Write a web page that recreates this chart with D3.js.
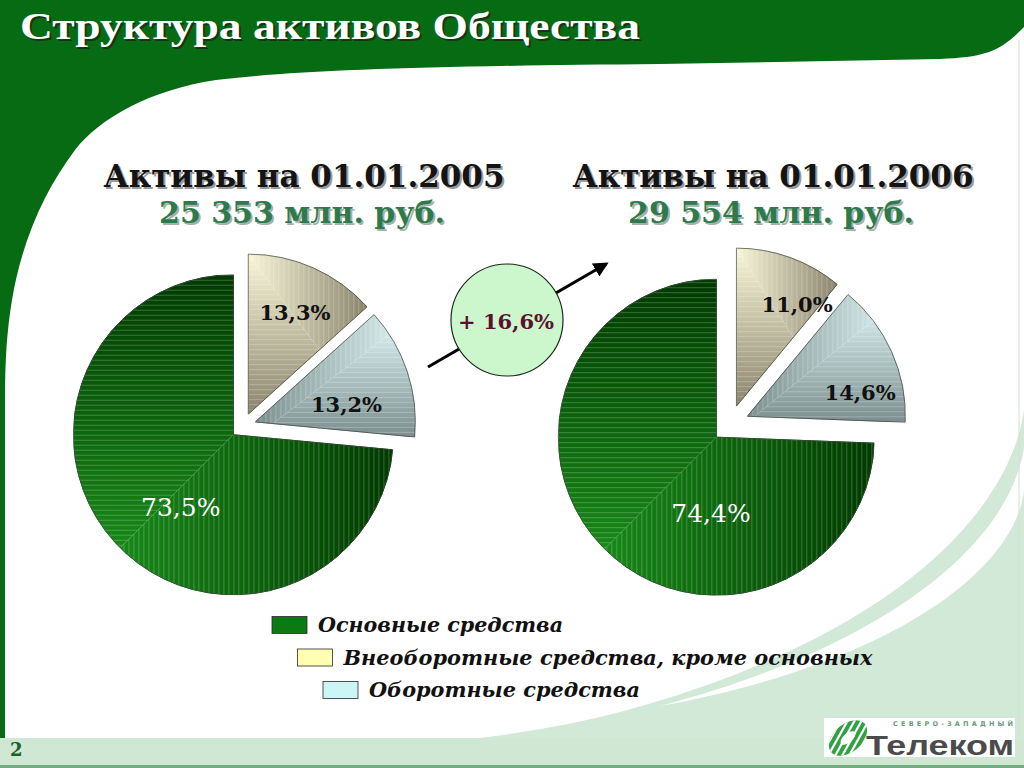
<!DOCTYPE html>
<html>
<head>
<meta charset="utf-8">
<script src="https://cdn.jsdelivr.net/npm/d3@7"></script>
<style>
  body { margin: 0; background: #fff; }
  svg { display: block; }
</style>
</head>
<body>
<svg id="chart" width="1024" height="768"></svg>
<script>
// ---- data ----
const categories = ["Основные средства", "Внеоборотные средства, кроме основных", "Оборотные средства"];
const years = ["01.01.2005", "01.01.2006"];
const totals = ["25 353", "29 554"];
const shares2005 = [73.5, 13.3, 13.2];
const shares2006 = [74.4, 11.0, 14.6];
const growthLabel = "+ 16,6%";
const sliceOrder = [1, 2, 0]; // clockwise from 12 o'clock

const legendColors = ["#0b7a12", "#ffffb4", "#ccf5f5"];
const legendWidths = [245, 529, 271];
// rectangular gradient per category: light corner (0 = left/top, 1 = right/bottom)
const sliceStyles = [
  { light: "#1c961c", dark: "#003a00", corner: [0, 1], label: "#fff", weight: "normal", size: 25 },
  { light: "#f8f6d8", dark: "#8a846c", corner: [0, 0], label: "#111", weight: "bold", size: 21 },
  { light: "#e2f9f9", dark: "#7c8e8e", corner: [1, 0], label: "#111", weight: "bold", size: 21 }
];

const ru = d3.formatLocale({ decimal: ",", thousands: " ", grouping: [3], currency: ["", ""] });
const fmt = ru.format(".1f");

const svg = d3.select("#chart");
const defs = svg.append("defs");

// ---- background ----
svg.append("rect").attr("width", 1024).attr("height", 768).attr("fill", "#fff");

svg.append("path")
  .attr("d", "M1024,410 C1008,520 880,642 620,712 Q560,728 480,738 H1024 Z")
  .attr("fill", "#d2e9d8");
svg.append("path")
  .attr("d", "M1024,448 C1008,548 880,648 660,706 C900,662 1016,566 1024,490 Z")
  .attr("fill", "#fff");
svg.append("rect").attr("x", 0).attr("y", 738).attr("width", 1024).attr("height", 28).attr("fill", "#cfe7d3");
svg.append("rect").attr("x", 0).attr("y", 765).attr("width", 1024).attr("height", 3).attr("fill", "#74ad80");
svg.append("line").attr("x1", 1019).attr("x2", 1019).attr("y1", 40).attr("y2", 738)
  .attr("stroke", "#d4ded4").attr("stroke-width", 1);

svg.append("path")
  .attr("d", "M0,0 H1024 V27 C1000,52 985,57 940,59 L660,64 C430,66 300,70 216,80 C150,90 100,118 75,150 C45,190 22,240 12,300 C7,330 5,360 5,400 L5,738 H0 Z")
  .attr("fill", "#066b12");

// title
svg.append("text")
  .attr("x", 22).attr("y", 41)
  .attr("font-family", "Liberation Serif, serif").attr("font-weight", "bold").attr("font-size", 38)
  .attr("fill", "#1a2a1a").attr("opacity", 0.8)
  .attr("textLength", 620).attr("lengthAdjust", "spacingAndGlyphs")
  .text("Структура активов Общества");
svg.append("text")
  .attr("x", 20).attr("y", 39)
  .attr("font-family", "Liberation Serif, serif").attr("font-weight", "bold").attr("font-size", 38)
  .attr("fill", "#fff")
  .attr("textLength", 620).attr("lengthAdjust", "spacingAndGlyphs")
  .text("Структура активов Общества");

function shadowText(parent, x, y, str, o) {
  const g = parent.append("g")
    .attr("font-family", o.font || "DejaVu Serif, serif")
    .attr("font-size", o.size)
    .attr("font-weight", o.weight || "bold")
    .attr("text-anchor", "middle");
  g.append("text").attr("x", x + 2).attr("y", y + 2).attr("fill", o.shadow).text(str);
  g.append("text").attr("x", x).attr("y", y).attr("fill", o.fill).text(str);
}

// ---- stripe patterns ----
defs.append("pattern").attr("id", "stripeH").attr("patternUnits", "userSpaceOnUse")
  .attr("width", 8).attr("height", 5)
  .append("rect").attr("width", 8).attr("height", 1).attr("fill", "#fff").attr("opacity", 0.22);
defs.append("pattern").attr("id", "stripeV").attr("patternUnits", "userSpaceOnUse")
  .attr("width", 5).attr("height", 8)
  .append("rect").attr("width", 1).attr("height", 8).attr("fill", "#fff").attr("opacity", 0.22);

// ---- pies ----
const pie = d3.pie().sort(null).value(d => d.value);
let uid = 0;

function drawPie(shares, o) {
  const g = svg.append("g").attr("transform", `translate(${o.cx},${o.cy})`);
  const arc = d3.arc().innerRadius(0).outerRadius(o.r);
  const arcs = pie(sliceOrder.map(i => ({ cat: i, value: shares[i] })));

  arcs.forEach(a => {
    const st = sliceStyles[a.data.cat];
    const mid = (a.startAngle + a.endAngle) / 2;
    const sg = g.append("g")
      .attr("transform", `translate(${Math.sin(mid) * o.explode},${-Math.cos(mid) * o.explode})`);
    const d = arc(a);

    const tmp = sg.append("path").attr("d", d).attr("fill", "none");
    const bb = tmp.node().getBBox();
    tmp.remove();

    const [cx, cy] = st.corner;
    const x0 = bb.x + cx * bb.width, x1 = bb.x + (1 - cx) * bb.width;
    const y0 = bb.y + cy * bb.height, y1 = bb.y + (1 - cy) * bb.height;
    const id = "s" + (uid++);

    const gradV = defs.append("linearGradient").attr("id", id + "gv").attr("gradientUnits", "userSpaceOnUse")
      .attr("x1", 0).attr("y1", y0).attr("x2", 0).attr("y2", y1);
    const gradH = defs.append("linearGradient").attr("id", id + "gh").attr("gradientUnits", "userSpaceOnUse")
      .attr("x1", x0).attr("y1", 0).attr("x2", x1).attr("y2", 0);
    [gradV, gradH].forEach(gr => {
      gr.append("stop").attr("offset", "0%").attr("stop-color", st.light);
      gr.append("stop").attr("offset", "100%").attr("stop-color", st.dark);
    });

    defs.append("clipPath").attr("id", id + "ca")
      .append("polygon").attr("points", [[x0, y0], [x1, y1], [x0, y1]].join(" "));
    defs.append("clipPath").attr("id", id + "cb")
      .append("polygon").attr("points", [[x0, y0], [x1, y1], [x1, y0]].join(" "));

    const ga = sg.append("g").attr("clip-path", `url(#${id}ca)`);
    ga.append("path").attr("d", d).attr("fill", `url(#${id}gv)`).attr("stroke", `url(#${id}gv)`).attr("stroke-width", 1);
    ga.append("path").attr("d", d).attr("fill", "url(#stripeH)");
    const gb = sg.append("g").attr("clip-path", `url(#${id}cb)`);
    gb.append("path").attr("d", d).attr("fill", `url(#${id}gh)`).attr("stroke", `url(#${id}gh)`).attr("stroke-width", 1);
    gb.append("path").attr("d", d).attr("fill", "url(#stripeV)");

    sg.append("path").attr("d", d).attr("fill", "none").attr("stroke", "#3c463c").attr("stroke-width", 0.7);

    // label
    const adj = o.labels[a.data.cat];
    const ang = mid + adj.da * Math.PI / 180;
    sg.append("text")
      .attr("x", Math.sin(ang) * o.r * adj.rf)
      .attr("y", -Math.cos(ang) * o.r * adj.rf)
      .attr("dy", "0.36em")
      .attr("text-anchor", "middle")
      .attr("font-family", "DejaVu Serif, serif")
      .attr("font-size", st.size)
      .attr("font-weight", st.weight)
      .attr("fill", st.label)
      .text(fmt(a.data.value) + "%");
  });
}

drawPie(shares2005, {
  cx: 243, cy: 426, r: 160, explode: 13,
  labels: [{ da: -11.7, rf: 0.56 }, { da: 0.7, rf: 0.70 }, { da: 7.5, rf: 0.58 }]
});
drawPie(shares2006, {
  cx: 730, cy: 424, r: 158, explode: 19,
  labels: [{ da: -42, rf: 0.48 }, { da: 11, rf: 0.75 }, { da: 12, rf: 0.73 }]
});

// ---- headings ----
[[304, 0], [773, 1]].forEach(([x, i]) => {
  shadowText(svg, x, 187, "Активы на " + years[i], { size: 31, fill: "#141414", shadow: "#9a9a9a" });
  shadowText(svg, x - 2, 223, totals[i] + " млн. руб.", { size: 30, fill: "#2d7a4c", shadow: "#a8b0aa" });
});

// ---- growth arrow & circle ----
defs.append("marker").attr("id", "arrowHead").attr("viewBox", "0 0 10 10")
  .attr("refX", 8).attr("refY", 5).attr("markerWidth", 5).attr("markerHeight", 5)
  .attr("orient", "auto")
  .append("path").attr("d", "M0,0 L10,5 L0,10 Z").attr("fill", "#000");
svg.append("line")
  .attr("x1", 428).attr("y1", 367).attr("x2", 606).attr("y2", 264)
  .attr("stroke", "#000").attr("stroke-width", 3)
  .attr("marker-end", "url(#arrowHead)");
svg.append("circle").attr("cx", 507).attr("cy", 320).attr("r", 56)
  .attr("fill", "#ccf7cc").attr("stroke", "#1a2a1a").attr("stroke-width", 1.2);
svg.append("text")
  .attr("x", 506).attr("y", 321).attr("dy", "0.36em")
  .attr("text-anchor", "middle")
  .attr("font-family", "DejaVu Serif, serif").attr("font-weight", "bold").attr("font-size", 21)
  .attr("fill", "#5c1030")
  .text(growthLabel);

// ---- legend ----
const legend = svg.append("g").attr("font-family", "DejaVu Serif, serif")
  .attr("font-style", "italic").attr("font-weight", "bold").attr("font-size", 20.5);
categories.forEach((c, i) => {
  const lx = 272 + i * 25.5, ly = 625 + i * 32.5;
  legend.append("rect").attr("x", lx).attr("y", ly - 8.5).attr("width", 35).attr("height", 17)
    .attr("fill", legendColors[i]).attr("stroke", "#2a2a2a").attr("stroke-width", 0.8);
  legend.append("text").attr("x", lx + 46).attr("y", ly + 7).attr("fill", "#111")
    .attr("textLength", legendWidths[i]).attr("lengthAdjust", "spacingAndGlyphs")
    .text(c);
});

// ---- footer ----
svg.append("text").attr("x", 10).attr("y", 756)
  .attr("font-family", "DejaVu Serif, serif").attr("font-weight", "bold").attr("font-size", 18)
  .attr("fill", "#1b5e2e").text("2");

const logo = svg.append("g");
logo.append("rect").attr("x", 824).attr("y", 718).attr("width", 191).attr("height", 39).attr("fill", "#fff");
defs.append("clipPath").attr("id", "logoClip")
  .append("ellipse").attr("cx", 848).attr("cy", 738).attr("rx", 22).attr("ry", 14)
  .attr("transform", "rotate(-40 848 738)");
const icon = logo.append("g").attr("clip-path", "url(#logoClip)");
icon.append("rect").attr("x", 820).attr("y", 715).attr("width", 56).attr("height", 46).attr("fill", "#34a044");
d3.range(-4, 5).forEach(k => {
  icon.append("line")
    .attr("x1", 830 + k * 7).attr("y1", 765).attr("x2", 860 + k * 7).attr("y2", 711)
    .attr("stroke", "#fff").attr("stroke-width", 2.2);
});
logo.append("ellipse").attr("cx", 848).attr("cy", 738).attr("rx", 9).attr("ry", 4.5)
  .attr("transform", "rotate(-40 848 738)").attr("fill", "#fff");
logo.append("text").attr("x", 866).attr("y", 755)
  .attr("font-family", "Liberation Sans, Arial, sans-serif").attr("font-weight", "bold").attr("font-size", 28)
  .attr("fill", "#4b4b4b").attr("textLength", 148).attr("lengthAdjust", "spacingAndGlyphs")
  .text("Телеком");
logo.append("text").attr("x", 893).attr("y", 726)
  .attr("font-family", "DejaVu Sans, sans-serif").attr("font-weight", "bold").attr("font-size", 6.5)
  .attr("fill", "#6a9a80").attr("textLength", 120).attr("lengthAdjust", "spacing")
  .text("СЕВЕРО-ЗАПАДНЫЙ");
</script>
</body>
</html>
